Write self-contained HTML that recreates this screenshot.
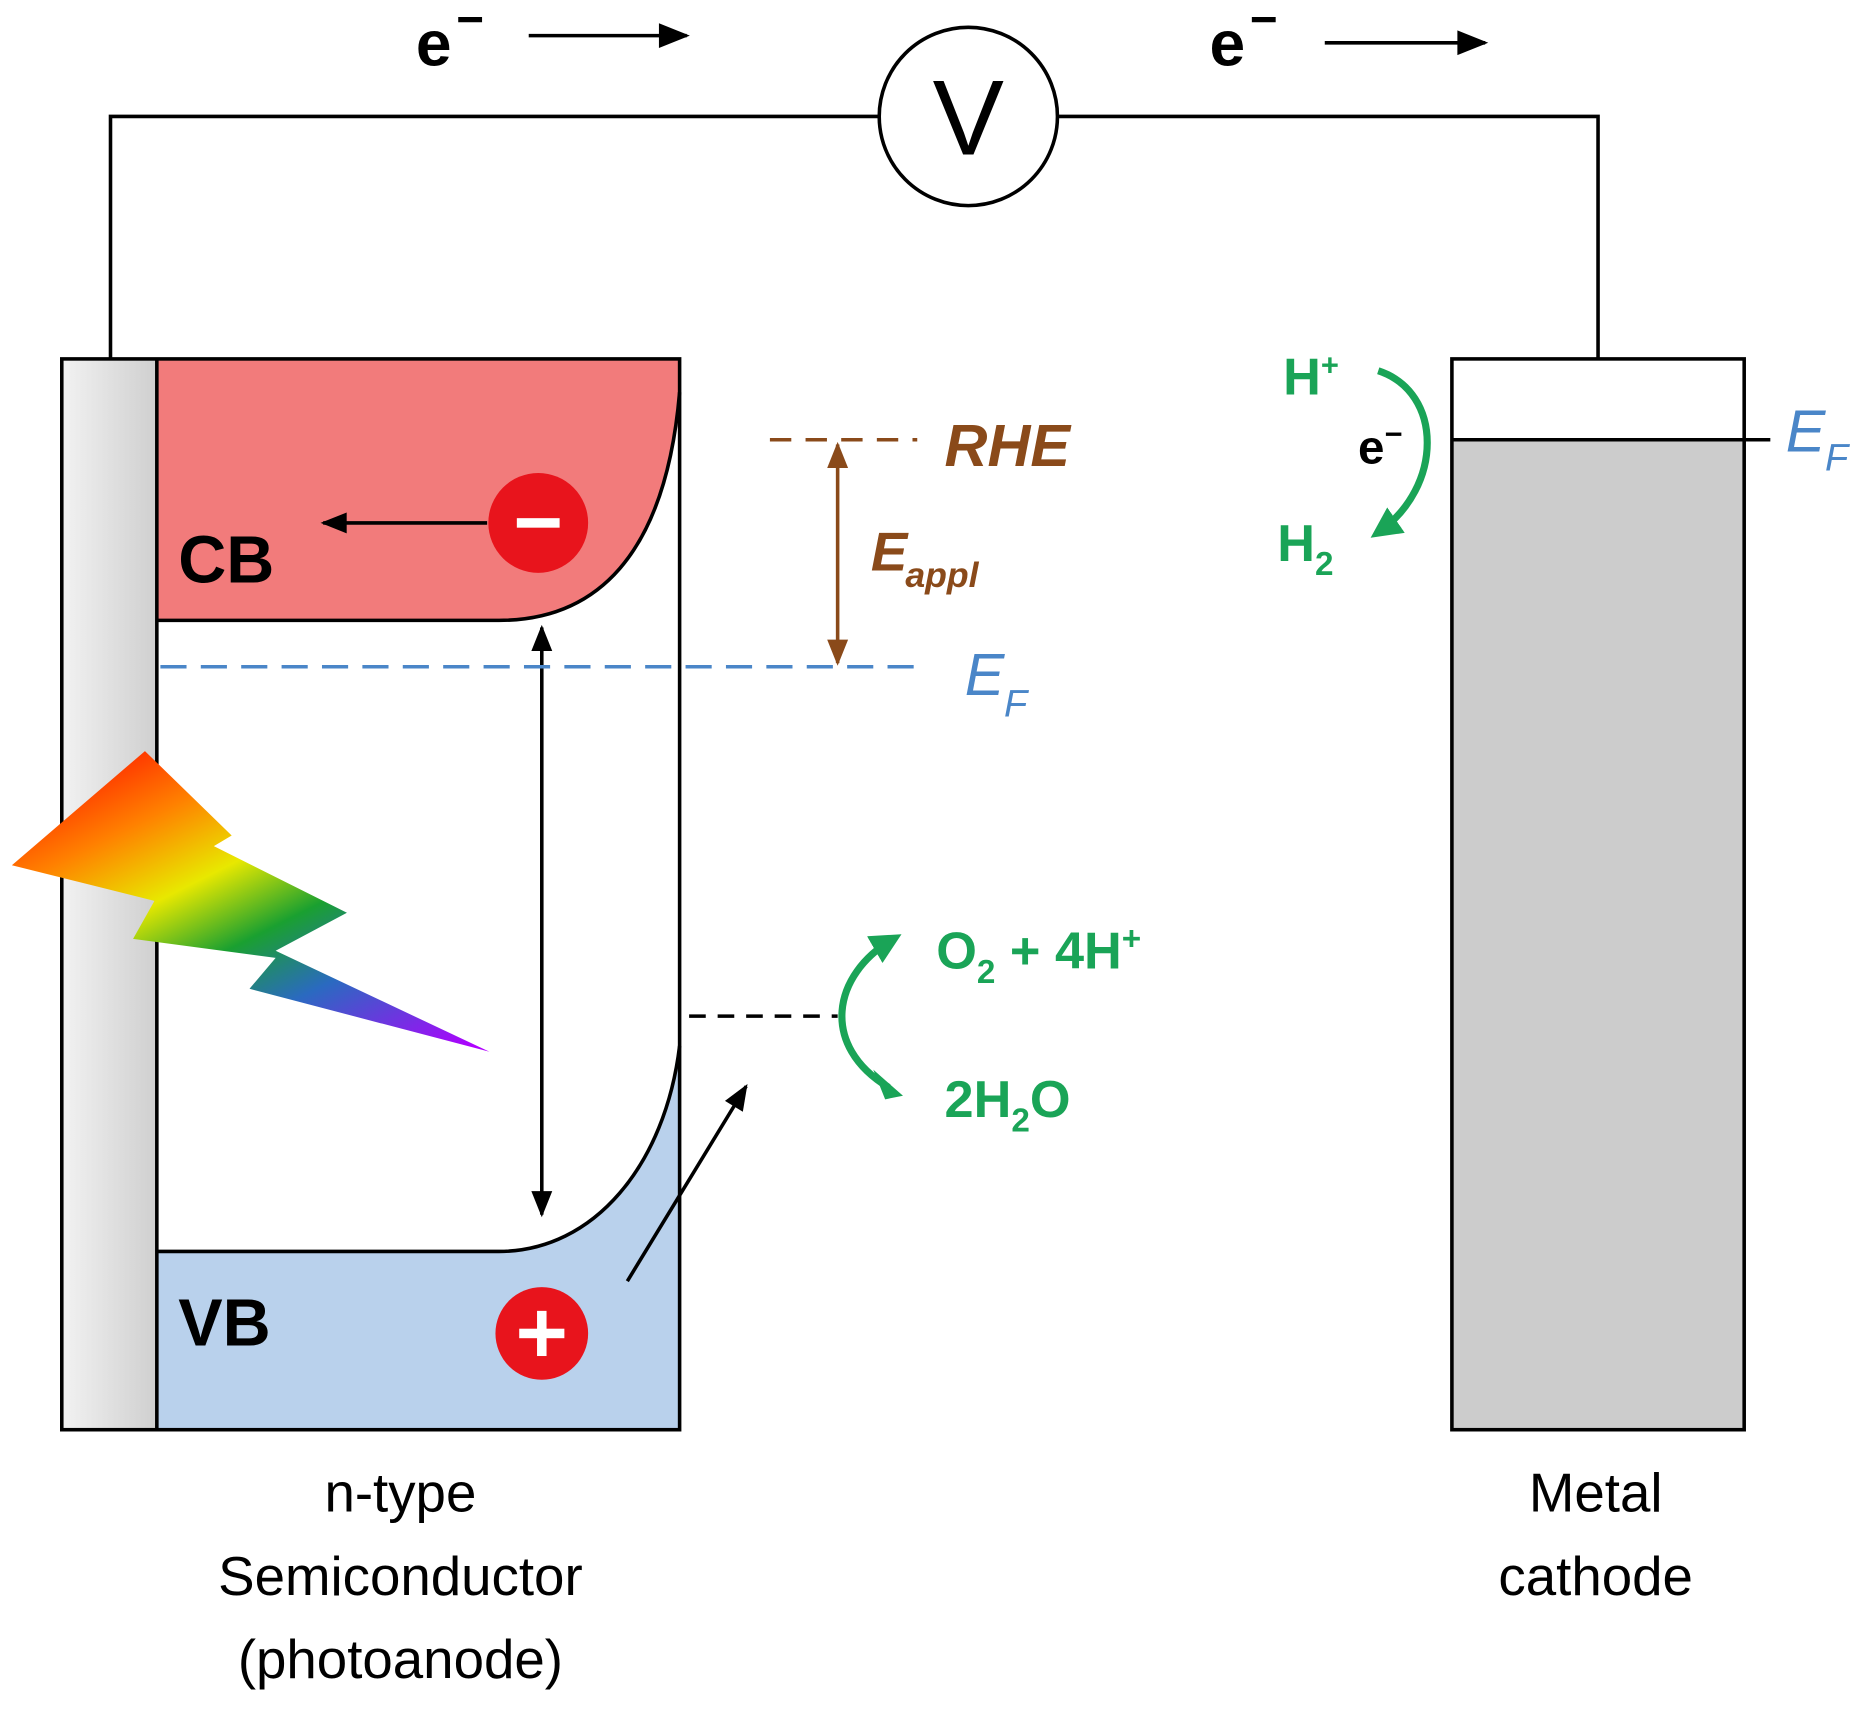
<!DOCTYPE html>
<html><head><meta charset="utf-8"><style>
html,body{margin:0;padding:0;background:#fff}
svg{display:block}
text{font-family:"Liberation Sans",sans-serif}
</style></head><body>
<svg width="1863" height="1709" viewBox="0 0 1568 1438" preserveAspectRatio="none" xmlns="http://www.w3.org/2000/svg">
<defs>
<marker id="abig" viewBox="0 0 10 10" refX="9" refY="5" markerWidth="34" markerHeight="26" orient="auto" markerUnits="userSpaceOnUse"><path d="M0,1 L10,5 L0,9 z" fill="#000"/></marker>
<marker id="abr" viewBox="0 0 10 10" refX="9" refY="5" markerWidth="24" markerHeight="22" orient="auto-start-reverse" markerUnits="userSpaceOnUse"><path d="M0,1 L10,5 L0,9 z" fill="#8a4a1a"/></marker>
<marker id="abk" viewBox="0 0 10 10" refX="9" refY="5" markerWidth="26" markerHeight="22" orient="auto-start-reverse" markerUnits="userSpaceOnUse"><path d="M0,1 L10,5 L0,9 z" fill="#000"/></marker>
<marker id="ag" viewBox="0 0 10 10" refX="7" refY="5" markerWidth="26" markerHeight="26" orient="auto" markerUnits="userSpaceOnUse"><path d="M0,0 L10,5 L0,10 z" fill="#1aa457"/></marker>
<linearGradient id="bolt" x1="0.15" y1="0" x2="0.95" y2="1">
<stop offset="0" stop-color="#ff1a00"/><stop offset="0.2" stop-color="#ff8000"/><stop offset="0.38" stop-color="#e8e800"/><stop offset="0.55" stop-color="#1aa030"/><stop offset="0.72" stop-color="#2a6ac0"/><stop offset="1" stop-color="#b000ff"/>
</linearGradient>
<linearGradient id="strip" x1="0" x2="1"><stop offset="0" stop-color="#f2f2f2"/><stop offset="1" stop-color="#cfcfcf"/></linearGradient>
</defs>

<polyline points="93,302 93,98 740,98" fill="none" stroke="#000" stroke-width="3"/>
<polyline points="890,98 1345,98 1345,302" fill="none" stroke="#000" stroke-width="3"/>
<circle cx="815" cy="98" r="75" fill="#fff" stroke="#000" stroke-width="3"/>
<text x="815" y="130" font-size="90" text-anchor="middle">V</text>

<text x="350" y="55" font-size="54" font-weight="bold">e</text><text x="384" y="30" font-size="40" font-weight="bold">−</text>
<line x1="445" y1="30" x2="578" y2="30" stroke="#000" stroke-width="3" marker-end="url(#abig)"/>
<text x="1018" y="55" font-size="54" font-weight="bold">e</text><text x="1052" y="30" font-size="40" font-weight="bold">−</text>
<line x1="1115" y1="36" x2="1250" y2="36" stroke="#000" stroke-width="3" marker-end="url(#abig)"/>

<rect x="52" y="302" width="80" height="901" fill="url(#strip)"/>
<path d="M132,302 L572,302 L572,330 C560,470 500,522 420,522 L132,522 Z" fill="#f27b7b"/>
<path d="M132,1053 L420,1053 C500,1053 560,980 572,880 L572,1203 L132,1203 Z" fill="#b9d1ec"/>
<path d="M132,522 L420,522 C500,522 560,470 572,330" fill="none" stroke="#000" stroke-width="3"/>
<path d="M132,1053 L420,1053 C500,1053 560,980 572,880" fill="none" stroke="#000" stroke-width="3"/>
<rect x="52" y="302" width="520" height="901" fill="none" stroke="#000" stroke-width="3"/>
<line x1="132" y1="302" x2="132" y2="1203" stroke="#000" stroke-width="3"/>

<text x="150" y="490" font-size="56" font-weight="bold">CB</text>
<text x="150" y="1132" font-size="56" font-weight="bold">VB</text>

<line x1="410" y1="440" x2="272" y2="440" stroke="#000" stroke-width="3" marker-end="url(#abk)"/>
<circle cx="453" cy="440" r="42" fill="#e8141c"/>
<rect x="435" y="436" width="36" height="8" fill="#fff"/>
<circle cx="456" cy="1122" r="39" fill="#e8141c"/>
<rect x="437" y="1118" width="38" height="8" fill="#fff"/><rect x="452" y="1103" width="8" height="38" fill="#fff"/>

<line x1="456" y1="528" x2="456" y2="1022" stroke="#000" stroke-width="3" marker-start="url(#abk)" marker-end="url(#abk)"/>

<line x1="135" y1="561" x2="770" y2="561" stroke="#4a86c8" stroke-width="3" stroke-dasharray="22,12"/>
<text x="812" y="585" font-size="50" font-style="italic" fill="#4a86c8">E</text><text x="845" y="603" font-size="32" font-style="italic" fill="#4a86c8">F</text>

<line x1="648" y1="370" x2="772" y2="370" stroke="#8a4a1a" stroke-width="3" stroke-dasharray="18,12"/>
<text x="795" y="392" font-size="50" font-style="italic" font-weight="bold" fill="#8a4a1a">RHE</text>
<line x1="705" y1="374" x2="705" y2="558" stroke="#8a4a1a" stroke-width="3" marker-start="url(#abr)" marker-end="url(#abr)"/>
<text x="733" y="480" font-size="46" font-style="italic" font-weight="bold" fill="#8a4a1a">E</text><text x="762" y="494" font-size="30" font-style="italic" font-weight="bold" fill="#8a4a1a">appl</text>

<line x1="580" y1="855" x2="705" y2="855" stroke="#000" stroke-width="3" stroke-dasharray="14,10"/>
<line x1="528" y1="1078" x2="628" y2="914" stroke="#000" stroke-width="3" marker-end="url(#abk)"/>

<path d="M748,915 C690,880 700,820 752,790" fill="none" stroke="#1aa457" stroke-width="6" marker-end="url(#ag)"/>
<path d="M760,922 L735,900 L745,925 z" fill="#1aa457"/>
<text x="788" y="815" font-size="44" font-weight="bold" fill="#1aa457">O<tspan font-size="28" dy="12">2</tspan><tspan dy="-12"> + 4H</tspan><tspan font-size="28" dy="-16">+</tspan></text>
<text x="795" y="940" font-size="44" font-weight="bold" fill="#1aa457">2H<tspan font-size="28" dy="12">2</tspan><tspan dy="-12">O</tspan></text>

<polygon points="10,728 122,632 195,703 180,712 292,768 232,800 412,885 210,832 232,806 112,790 130,758" fill="url(#bolt)"/>

<rect x="1222" y="370" width="246" height="833" fill="#cccccc"/>
<rect x="1222" y="302" width="246" height="901" fill="none" stroke="#000" stroke-width="3"/>
<line x1="1222" y1="370" x2="1490" y2="370" stroke="#000" stroke-width="3"/>
<text x="1503" y="380" font-size="50" font-style="italic" fill="#4a86c8">E</text><text x="1536" y="396" font-size="32" font-style="italic" fill="#4a86c8">F</text>

<text x="1080" y="332" font-size="44" font-weight="bold" fill="#1aa457">H<tspan font-size="26" dy="-16">+</tspan></text>
<text x="1143" y="390" font-size="40" font-weight="bold">e<tspan font-size="26" dy="-16">−</tspan></text>
<text x="1075" y="472" font-size="44" font-weight="bold" fill="#1aa457">H<tspan font-size="28" dy="12">2</tspan></text>
<path d="M1160,312 C1215,330 1215,410 1160,448" fill="none" stroke="#1aa457" stroke-width="6" marker-end="url(#ag)"/>

<g font-size="46" text-anchor="middle">
<text x="337" y="1272">n-type</text>
<text x="337" y="1342">Semiconductor</text>
<text x="337" y="1412">(photoanode)</text>
<text x="1343" y="1272">Metal</text>
<text x="1343" y="1342">cathode</text>
</g>
</svg>
</body></html>
